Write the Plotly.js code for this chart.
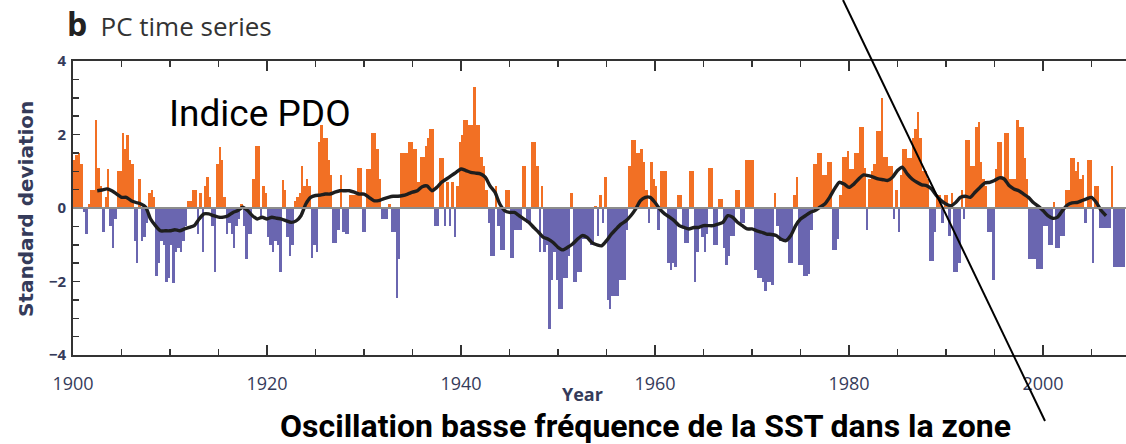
<!DOCTYPE html>
<html>
<head>
<meta charset="utf-8">
<script src="https://cdn.plot.ly/plotly-3.0.1.min.js"></script>
<style>
  html, body { margin: 0; padding: 0; background: #fff; }
  #chart { width: 1126px; height: 444px; }
</style>
</head>
<body>
<div id="chart"></div>
<script>
// ---- DATA ----
// PDO index, quarterly values (standard deviations), one row per year starting 1900
const barStartYear = 1900;
const barStep = 0.25;
const pdoQuarterly = [
  1.30, 1.45, 1.50, 1.20,   // 1900
  -0.10, -0.70, 0.10, 0.50, // 1901
  0.50, 2.40, 1.10, 0.60,   // 1902
  -0.65, 0.30, 1.05, -0.50, // 1903
  -1.10, -0.30, 1.00, 1.00, // 1904
  2.05, 1.60, 2.00, 1.30,   // 1905
  1.20, -0.90, -1.50, 0.80, // 1906
  -0.90, -0.80, -0.40, 0.40,// 1907
  0.50, 0.30, -1.85, -1.50, // 1908
  -0.90, -1.00, -2.00, -1.90,// 1909
  -1.00, -2.05, -1.20, -1.10,// 1910
  -1.20, -0.90, -0.50, 0.20, // 1911
  0.20, 0.50, 0.50, -0.70,  // 1912
  0.40, -1.20, 0.60, 0.85,  // 1913
  0.30, -0.50, -1.75, 1.20, // 1914
  1.65, 1.30, 0.30, -0.70,  // 1915
  -0.40, -0.70, -1.10, -0.50,// 1916
  -0.30, 0.10, -0.50, -1.40, // 1917
  -0.70, -0.70, 0.80, 1.70, // 1918
  1.70, -0.30, 0.60, 0.40,  // 1919
  -0.80, -1.00, -1.20, -0.90,// 1920
  -1.00, -1.75, 0.75, 0.50, // 1921
  -0.80, -1.30, -1.00, 0.20, // 1922
  0.30, 0.40, 1.15, 0.60,   // 1923
  0.80, 0.60, -1.35, -1.00, // 1924
  -1.20, 1.80, 2.25, 1.90,  // 1925
  1.90, 1.30, 0.90, -0.95,  // 1926
  -0.95, -0.60, 0.90, -0.65,// 1927
  -0.70, -0.70, 0.35, 0.35, // 1928
  0.35, 1.10, 1.10, -0.65,  // 1929
  -0.65, 1.05, 1.05, 2.05,  // 1930
  2.05, 1.60, 0.80, -0.30,  // 1931
  -0.30, -0.30, 0.10, -0.65,// 1932
  -0.65, -2.45, -1.40, 1.50,// 1933
  1.50, 1.50, 1.80, 1.80,   // 1934
  1.60, 1.60, 0.70, 1.40,   // 1935
  1.40, 1.70, 1.90, 2.15,   // 1936
  2.15, -0.50, -0.50, 1.35, // 1937
  1.35, -0.50, 0.70, -0.50, // 1938
  0.70, -0.80, 0.60, 1.80,  // 1939
  2.00, 2.40, 2.40, 2.25,   // 1940
  2.25, 3.30, 2.25, 2.25,   // 1941
  1.40, 1.15, 0.50, -0.40,  // 1942
  -1.30, -1.30, 0.60, -0.50,// 1943
  -1.15, -1.15, 0.50, 0.50, // 1944
  -1.35, -1.35, -0.60, -0.60,// 1945
  -0.60, 1.15, 1.15, -0.40, // 1946
  -0.40, 1.80, 1.80, 1.15,  // 1947
  -1.20, 0.60, -1.20, -1.00,// 1948
  -3.30, -1.95, -1.20, -1.95,// 1949
  -2.75, -2.75, -1.90, -1.90,// 1950
  -1.30, 0.40, -2.00, -2.00, // 1951
  -1.75, -1.75, -0.85, -0.85,// 1952
  -0.85, -1.00, -1.00, 0.05, // 1953
  -0.75, 0.35, -0.40, 0.85, // 1954
  -2.50, -2.75, -2.40, -2.40,// 1955
  -2.40, -1.95, -1.95, -1.95,// 1956
  -0.60, 1.15, 1.85, 1.85,  // 1957
  1.50, 1.50, 1.60, 1.25,   // 1958
  0.50, -0.40, 1.25, 0.80,  // 1959
  0.60, -0.60, 1.00, 1.00,  // 1960
  1.00, -1.50, -1.70, -1.50,// 1961
  -1.60, 0.35, 0.35, -0.50, // 1962
  -0.95, -0.95, 1.00, 1.00, // 1963
  -2.00, -1.20, -0.50, -0.80,// 1964
  -1.20, -0.70, 1.10, 1.10, // 1965
  -1.00, -1.00, 0.25, 0.25, // 1966
  -1.10, -1.55, -1.30, -0.75,// 1967
  -0.75, 0.50, 0.50, -0.40, // 1968
  -0.40, 1.30, 1.30, 1.30,  // 1969
  1.30, -1.70, -1.90, -1.90,// 1970
  -2.00, -2.25, -2.00, -2.00,// 1971
  -2.10, 0.40, -0.50, -0.90, // 1972
  -0.85, -0.85, -0.85, -1.50,// 1973
  -1.50, 0.35, 0.85, -1.55, // 1974
  -1.55, -1.85, -1.85, -1.80,// 1975
  -0.60, 1.20, 1.20, 1.50,  // 1976
  1.50, 0.90, 0.90, 1.25,   // 1977
  1.25, -1.15, -1.15, -0.85,// 1978
  0.35, 1.40, 1.40, 1.55,   // 1979
  1.05, 1.05, 1.50, 1.50,   // 1980
  2.20, 2.20, 1.10, -0.60,  // 1981
  0.80, 1.00, 1.20, 2.10,   // 1982
  2.10, 3.00, 1.40, 1.40,   // 1983
  1.15, 1.15, -0.30, 0.50,  // 1984
  -0.65, 0.90, 1.60, 1.60,  // 1985
  1.35, 1.35, 1.90, 2.15,   // 1986
  2.60, 1.90, 1.00, 1.00,   // 1987
  0.80, -1.45, -1.45, -0.65,// 1988
  0.35, 0.35, -0.40, 0.35,  // 1989
  0.35, -0.75, 0.40, -1.75, // 1990
  -1.75, -1.50, 0.50, -0.30,// 1991
  1.85, 1.85, 1.15, 1.15,   // 1992
  2.20, 2.35, 1.25, 0.80,   // 1993
  0.60, -0.65, -0.65, -1.95,// 1994
  1.05, 1.80, 1.80, 0.80,   // 1995
  2.05, 2.05, 0.80, 0.80,   // 1996
  0.80, 2.40, 2.20, 2.20,   // 1997
  1.35, 0.80, -1.40, -1.40, // 1998
  -1.40, -1.65, -1.65, -1.65,// 1999
  -0.50, -0.50, -1.00, -1.00,// 2000
  0.15, -1.10, -1.10, -0.75, // 2001
  -0.75, 0.50, 0.50, 1.35,  // 2002
  1.35, 1.00, 1.25, 0.80,   // 2003
  0.90, -0.40, 1.30, 1.30,  // 2004
  -1.50, 0.60, 0.60, -0.55, // 2005
  -0.55, -0.55, -0.55, -0.55,// 2006
  1.15, -1.60, -1.60, -1.60, // 2007
  -1.60, -1.60              // 2008
];

// Low-pass filtered PDO (black curve), every half year starting 1902.5
const smoothStartYear = 1902.5;
const smoothStep = 0.5;
const pdoSmooth = [
  0.47, 0.49, 0.52, 0.47, 0.38, 0.29, 0.29, 0.20, 0.15, 0.11,
  0.02, -0.30, -0.48, -0.62, -0.62, -0.62, -0.59, -0.62, -0.57, -0.53,
  -0.48, -0.30, -0.16, -0.16, -0.21, -0.25, -0.25, -0.21, -0.12, -0.07,
  0.02, -0.07, -0.21, -0.30, -0.25, -0.30, -0.25, -0.28, -0.30, -0.35,
  -0.39, -0.35, -0.21, 0.11, 0.29, 0.34, 0.35, 0.38, 0.38, 0.43,
  0.47, 0.47, 0.47, 0.43, 0.38, 0.38, 0.29, 0.20, 0.20, 0.25,
  0.29, 0.32, 0.32, 0.34, 0.38, 0.43, 0.47, 0.58, 0.60, 0.47,
  0.56, 0.70, 0.79, 0.88, 0.97, 1.06, 1.02, 0.97, 0.95, 0.93,
  0.84, 0.60, 0.43, 0.11, -0.07, -0.12, -0.12, -0.21, -0.30, -0.39,
  -0.53, -0.66, -0.80, -0.85, -0.94, -1.07, -1.14, -1.07, -0.98, -0.85,
  -0.75, -0.80, -0.94, -1.00, -1.03, -0.89, -0.71, -0.57, -0.44, -0.35,
  -0.21, -0.03, 0.20, 0.29, 0.29, 0.15, -0.03, -0.16, -0.25, -0.35,
  -0.48, -0.53, -0.57, -0.53, -0.53, -0.48, -0.48, -0.48, -0.44, -0.39,
  -0.21, -0.25, -0.39, -0.48, -0.57, -0.57, -0.62, -0.66, -0.71, -0.72,
  -0.75, -0.85, -0.89, -0.75, -0.48, -0.30, -0.21, -0.12, -0.07, 0.02,
  0.11, 0.29, 0.52, 0.70, 0.65, 0.56, 0.65, 0.79, 0.90, 0.88,
  0.84, 0.79, 0.77, 0.75, 0.84, 1.02, 1.11, 0.93, 0.79, 0.70,
  0.63, 0.61, 0.52, 0.34, 0.20, 0.11, 0.06, 0.15, 0.29, 0.32,
  0.29, 0.43, 0.56, 0.68, 0.70, 0.75, 0.82, 0.79, 0.61, 0.52,
  0.47, 0.38, 0.29, 0.15, 0.05, -0.07, -0.21, -0.28, -0.25, -0.07,
  0.08, 0.14, 0.15, 0.20, 0.25, 0.29, 0.15, -0.07, -0.21
];

const yTickVals = [-4, -2, 0, 2, 4];
const yTickText = ['\u22124', '\u22122', '0', '2', '4'];
const xTickVals = [1900, 1920, 1940, 1960, 1980, 2000];
const xTickText = ['1900', '1920', '1940', '1960', '1980', '2000'];

// ---- BUILD ----
const ORANGE = '#f27024';
const PURPLE = '#6a66b0';
const TXT = '#353b5a';

const barX = pdoQuarterly.map((v, i) => barStartYear + (i + 0.5) * barStep);
const barColors = pdoQuarterly.map(v => v >= 0 ? ORANGE : PURPLE);
const smoothX = pdoSmooth.map((v, i) => smoothStartYear + i * smoothStep);

const traces = [
  {
    type: 'bar', x: barX, y: pdoQuarterly, width: barStep,
    marker: { color: barColors, line: { width: 0 } },
    hoverinfo: 'x+y', showlegend: false
  },
  {
    type: 'scatter', mode: 'lines', x: smoothX, y: pdoSmooth,
    line: { color: '#1e1e1e', width: 3.4, shape: 'spline', smoothing: 0.6 },
    showlegend: false
  }
];

const W = 1126, H = 444;
const L = 73, R = 0, T = 61, B = 89;
const pw = W - L - R, ph = H - T - B;
const px = v => (v - L) / pw;
const py = v => (H - B - v) / ph;

const layout = {
  width: W, height: H,
  margin: { l: L, r: R, t: T, b: B, pad: 0 },
  paper_bgcolor: '#fff', plot_bgcolor: '#fff',
  bargap: 0,
  font: { family: 'Open Sans, sans-serif', color: TXT },
  title: {
    text: '<b><span style="font-size:32px;color:#222">b</span></b>&nbsp;&nbsp;&nbsp;<span style="font-size:26px;color:#333">PC time series</span>',
    x: 67 / W, xanchor: 'left', xref: 'container',
    y: 1 - 30 / H, yanchor: 'middle', yref: 'container'
  },
  xaxis: {
    range: [1900, 1900 + pw / 9.7],
    tickmode: 'array', tickvals: xTickVals, ticktext: xTickText,
    ticks: 'inside', ticklen: 10, tickwidth: 1.8, tickcolor: '#333',
    ticklabelstandoff: 12,
    minor: { dtick: 5, ticks: 'inside', ticklen: 6, tickwidth: 1.5, tickcolor: '#333' },
    showline: true, linecolor: '#333', linewidth: 1.8, mirror: 'ticks',
    showgrid: false, zeroline: false,
    tickfont: { size: 18, color: TXT, family: 'Open Sans, sans-serif' }
  },
  yaxis: {
    range: [-4, 4],
    tickmode: 'array', tickvals: yTickVals, ticktext: yTickText,
    ticks: 'inside', ticklen: 7, tickwidth: 1.8, tickcolor: '#333',
    ticklabelstandoff: 2,
    minor: { dtick: 0.5, ticks: 'inside', ticklen: 6, tickwidth: 1.5, tickcolor: '#333' },
    showline: true, linecolor: '#333', linewidth: 1.8, mirror: false,
    showgrid: false, zeroline: false,
    tickfont: { size: 15, color: TXT, family: 'Open Sans, sans-serif', weight: 700 }
  },
  shapes: [
    { type: 'line', xref: 'paper', yref: 'y', x0: 0, x1: 1, y0: 0, y1: 0,
      line: { color: '#8c8c8c', width: 2 }, layer: 'above' },
    { type: 'line', xref: 'paper', yref: 'paper',
      x0: px(843), y0: py(0), x1: px(1045), y1: py(421),
      line: { color: '#000', width: 2 }, layer: 'above' }
  ],
  annotations: [
    { text: '<b>Standard deviation</b>', textangle: -90, xref: 'paper', yref: 'paper',
      x: px(26), y: py(209), showarrow: false, xanchor: 'center', yanchor: 'middle',
      font: { size: 20, color: TXT, family: 'DejaVu Sans, sans-serif' } },
    { text: '<b>Year</b>', xref: 'paper', yref: 'paper',
      x: px(582), y: py(394), showarrow: false, xanchor: 'center', yanchor: 'middle',
      font: { size: 18, color: TXT, family: 'Open Sans, sans-serif' } },
    { text: 'Indice PDO', xref: 'paper', yref: 'paper',
      x: px(260), y: py(113), showarrow: false, xanchor: 'center', yanchor: 'middle',
      font: { size: 37, color: '#000', family: 'Roboto, sans-serif' } },
    { text: '<b>Oscillation basse fréquence de la SST dans la zone</b>', xref: 'paper', yref: 'paper',
      x: px(645), y: py(426), showarrow: false, xanchor: 'center', yanchor: 'middle',
      font: { size: 32, color: '#000', family: 'Roboto, sans-serif' } }
  ]
};

Plotly.newPlot('chart', traces, layout, { displayModeBar: false, staticPlot: true });
</script>
</body>
</html>
